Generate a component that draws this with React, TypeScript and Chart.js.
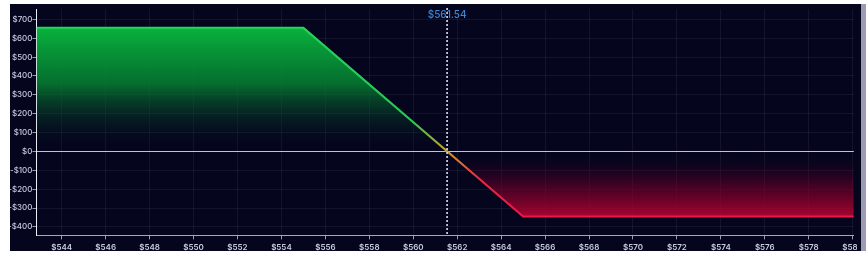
import React, { useEffect, useRef } from "react";
import { Chart, registerables } from "chart.js";

Chart.register(...registerables);

const priceLevels = [542.85, 555, 565, 580.05];
const profitLoss = [655, 655, -345, -345];
const currentPrice = 561.54;
const currentPriceLabel = "$561.54";
const xRange = [542.85, 580.05];
const yRange = [-445, 755];
const xTickValues = [544, 546, 548, 550, 552, 554, 556, 558, 560, 562, 564, 566, 568, 570, 572, 574, 576, 578, 580];
const yTickValues = [-400, -300, -200, -100, 0, 100, 200, 300, 400, 500, 600, 700];

const FONT_FAMILY = "Inter, 'Noto Sans', 'DejaVu Sans', sans-serif";

export default function App() {
  const ref = useRef<HTMLCanvasElement>(null);

  useEffect(() => {
    const canvas = ref.current!;
    const tickFont = { family: FONT_FAMILY, size: 8, weight: "600" as any };
    const yTickFont = { family: FONT_FAMILY, size: 8, weight: "500" as any };

    const priceLine = {
      id: "priceLine",
      afterDatasetsDraw(chart: any) {
        const { ctx, chartArea, scales } = chart;
        const x = scales.x.getPixelForValue(currentPrice);
        ctx.save();
        ctx.strokeStyle = "#e4ecff";
        ctx.lineWidth = 1.5;
        ctx.setLineDash([2, 2]);
        ctx.beginPath();
        ctx.moveTo(x, chartArea.top - 1);
        ctx.lineTo(x, chartArea.bottom);
        ctx.stroke();
        ctx.setLineDash([]);
        ctx.fillStyle = "#3b86d6";
        ctx.font = `500 10px ${FONT_FAMILY}`;
        ctx.textAlign = "center";
        ctx.textBaseline = "middle";
        ctx.fillText(currentPriceLabel, x, chartArea.top + 6);
        ctx.restore();
      },
    };

    const gradFor = (chart: any, build: (g: CanvasGradient, z: number) => void, fallback: string) => {
      const { chartArea, scales } = chart;
      if (!chartArea || !scales.y) return fallback;
      const yTop = scales.y.getPixelForValue(Math.max(...profitLoss));
      const yBot = scales.y.getPixelForValue(Math.min(...profitLoss));
      const y0 = scales.y.getPixelForValue(0);
      const g = chart.ctx.createLinearGradient(0, yTop, 0, yBot);
      const z = (y0 - yTop) / (yBot - yTop);
      build(g, z);
      return g;
    };

    const chart = new Chart(canvas, {
      type: "line",
      data: {
        datasets: [
          {
            data: priceLevels.map((p, i) => ({ x: p, y: profitLoss[i] })),
            borderColor: (c: any) =>
              gradFor(
                c.chart,
                (g, z) => {
                  g.addColorStop(0, "#27d35a");
                  g.addColorStop(Math.max(0, z - 0.17), "#27c955");
                  g.addColorStop(z, "#c9a326");
                  g.addColorStop(Math.min(1, z + 0.14), "#ee2a45");
                  g.addColorStop(1, "#ec1748");
                },
                "#27d35a"
              ),
            backgroundColor: (c: any) =>
              gradFor(
                c.chart,
                (g, z) => {
                  g.addColorStop(0, "rgba(8,178,62,1)");
                  g.addColorStop(z * 0.45, "rgba(6,130,50,0.85)");
                  g.addColorStop(z, "rgba(5,5,30,0)");
                  g.addColorStop(Math.min(1, z + (1 - z) * 0.5), "rgba(110,0,40,0.55)");
                  g.addColorStop(1, "rgba(178,4,48,0.95)");
                },
                "rgba(8,178,62,0.5)"
              ),
            fill: "origin",
            borderWidth: 2,
            pointRadius: 0,
            tension: 0,
          },
        ],
      },
      options: {
        responsive: false,
        animation: false,
        plugins: { legend: { display: false }, tooltip: { enabled: false } },
        layout: { padding: { left: 1, top: 5, right: 0, bottom: 0 } },
        scales: {
          x: {
            type: "linear",
            min: xRange[0],
            max: xRange[1],
            afterBuildTicks: (s: any) => {
              s.ticks = xTickValues.map((v) => ({ value: v }));
            },
            ticks: {
              autoSkip: false,
              maxRotation: 0,
              color: "#c8cce0",
              font: tickFont,
              padding: 3,
              callback: (v: any) => "$" + v,
            },
            grid: {
              color: "rgba(255,255,255,0.06)",
              tickLength: 4,
              tickColor: "rgba(190,190,210,0.8)",
            },
            border: { color: "#a6a6bc", width: 1 },
          },
          y: {
            type: "linear",
            min: yRange[0],
            max: yRange[1],
            afterBuildTicks: (s: any) => {
              s.ticks = yTickValues.map((v) => ({ value: v }));
            },
            ticks: {
              color: "#c8cce0",
              font: yTickFont,
              padding: 0,
              callback: (v: any) => (v < 0 ? "-$" + Math.abs(v) : "$" + v),
            },
            grid: {
              color: (c: any) =>
                c.tick && c.tick.value === 0 ? "rgba(215,215,230,0.9)" : "rgba(255,255,255,0.06)",
              tickLength: 4,
              tickColor: "rgba(190,190,210,0.8)",
            },
            border: { color: "#ececf6", width: 1 },
          },
        },
      },
      plugins: [priceLine],
    } as any);
    return () => chart.destroy();
  }, []);

  return (
    <>
      <div
        style={{
          position: "fixed",
          left: 10,
          top: 4,
          width: 851,
          height: 247,
          background: "#05051e",
        }}
      >
        <div style={{ position: "absolute", left: 0, top: 0, width: 847, height: 247, overflow: "hidden" }}>
          <canvas
            ref={ref}
            width={859}
            height={251}
            style={{ position: "absolute", left: -3, top: 0, width: 859, height: 251, display: "block" }}
          />
        </div>
      </div>
      <div
        style={{
          position: "fixed",
          left: 861,
          top: 4,
          width: 5,
          height: 247,
          background: "#9c9cb2",
        }}
      />
    </>
  );
}
